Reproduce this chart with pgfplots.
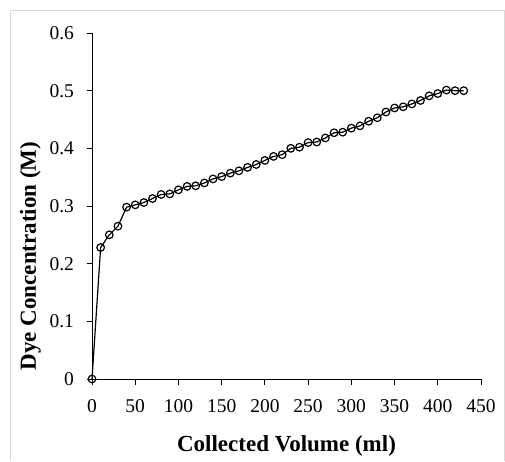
\documentclass[border=0pt]{standalone}
\usepackage{pgfplots}
\pgfplotsset{compat=1.18}
\usepackage{fontspec}
\setmainfont{Liberation Serif}
\newcommand{\tickf}{\fontsize{19.5}{22}\selectfont}
\newcommand{\labf}{\fontsize{23}{26}\selectfont}
\begin{document}
\begin{tikzpicture}[x=1pt,y=1pt]
\useasboundingbox (0,0) rectangle (505,461);
\draw[black!15,line width=0.8pt] (10,0) -- (10,451) -- (504.6,451) -- (504.6,0);
\begin{axis}[
  at={(92pt,82pt)}, anchor=south west,
  scale only axis, width=389pt, height=346pt,
  xmin=0, xmax=450, ymin=0, ymax=0.6,
  xtick={0,50,...,450}, ytick={0,0.1,...,0.6},
  yticklabel style={/pgf/number format/fixed,/pgf/number format/precision=1},
  /pgf/number format/assume math mode=true,
  axis x line*=bottom, axis y line*=left,
  axis line style={line width=1pt},
  tick style={black,line width=1pt},
  tick align=outside, major tick length=5.5pt,
  tick label style={font=\tickf},
  xticklabel style={yshift=-11pt},
  yticklabel style={xshift=-9pt},
  xlabel={\textbf{Collected Volume (ml)}},
  ylabel={\textbf{Dye Concentration (M)}},
  every axis label/.append style={font=\labf},
  xlabel style={yshift=-16pt},
  ylabel style={yshift=2pt, xshift=-50pt},
  clip=false,
]
\addplot[black, line width=1.2pt, mark=o, mark size=3.8pt, mark options={line width=1.2pt, fill=none}] coordinates {
(0,0) (10,0.228) (20,0.250) (30,0.265) (40,0.298) (50,0.302) (60,0.306) (70,0.313) (80,0.320) (90,0.321)
(100,0.328) (110,0.334) (120,0.335) (130,0.340) (140,0.347) (150,0.351) (160,0.357) (170,0.361) (180,0.367) (190,0.372)
(200,0.379) (210,0.386) (220,0.389) (230,0.400) (240,0.402) (250,0.410) (260,0.411) (270,0.418) (280,0.427) (290,0.428)
(300,0.435) (310,0.439) (320,0.447) (330,0.453) (340,0.463) (350,0.470) (360,0.472) (370,0.477) (380,0.483) (390,0.491)
(400,0.495) (410,0.501) (420,0.500) (430,0.500)
};
\end{axis}
\end{tikzpicture}
\end{document}
